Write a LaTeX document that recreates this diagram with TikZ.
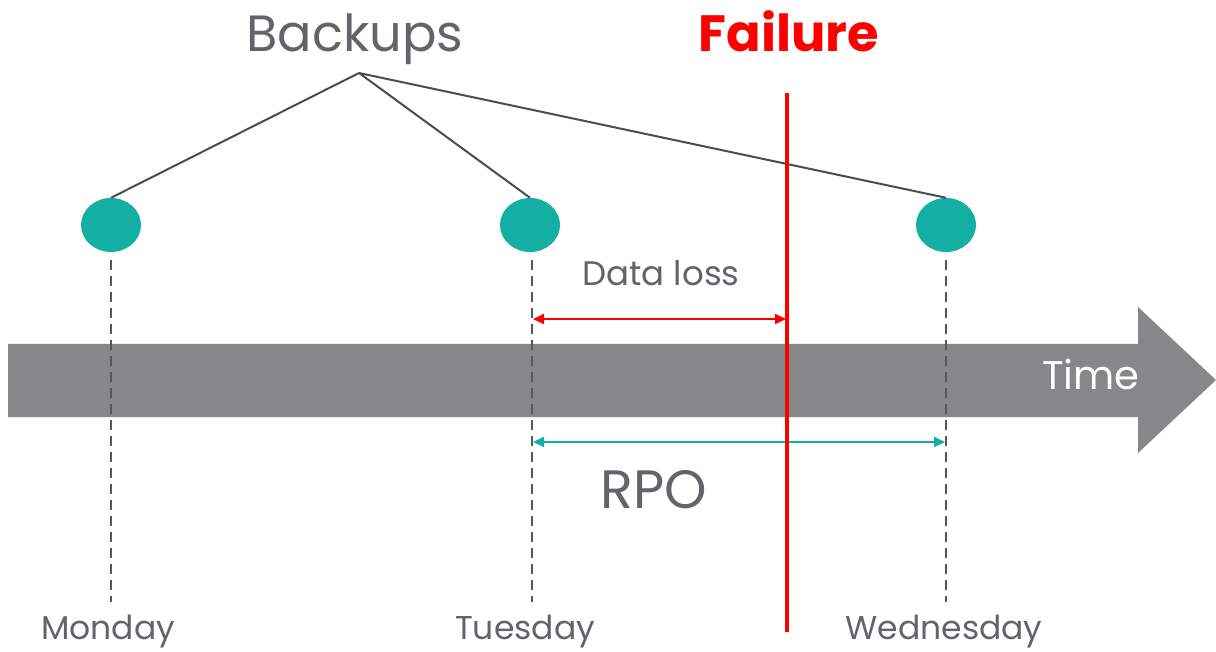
\documentclass[tikz,border=0pt]{standalone}
\usepackage{fontspec}
\setmainfont{Poppins}
\usetikzlibrary{arrows.meta,shapes.geometric}
\definecolor{bkteal}{HTML}{12AFA2}
\definecolor{bandgray}{HTML}{858789}
\definecolor{labelgray}{HTML}{62646A}
\definecolor{linkgray}{HTML}{4A4C50}
\definecolor{dashgray}{HTML}{55575B}
\definecolor{failred}{HTML}{FF0000}
\tikzset{
  backup/.style={ellipse, fill=bkteal, draw=none, minimum width=60pt, minimum height=54pt, inner sep=0pt},
  link/.style={linkgray, line width=2pt},
  guide/.style={dashgray, line width=2.6pt, dash pattern=on 10pt off 6pt},
  label/.style={labelgray, anchor=base, inner sep=0pt},
  span/.style={line width=2pt, {Triangle[length=11pt,width=10pt]}-{Triangle[length=11pt,width=10pt]}}
}
\begin{document}
\begin{tikzpicture}[x=1pt,y=-1pt]
\useasboundingbox (0,0) rectangle (1216,652);

% time band with arrow head
\fill[bandgray] (8,344) -- (1138,344) -- (1138,307) -- (1216,380) -- (1138,453) -- (1138,417) -- (8,417) -- cycle;
\node[anchor=base, white, inner sep=0pt, font=\fontsize{40}{44}\selectfont] (time) at (1091,389) {Time};

% backups
\node[backup] (mon) at (111,225) {};
\node[backup] (tue) at (530,225) {};
\node[backup] (wed) at (946,225) {};
\coordinate (apex) at (359,73);
\draw[link] (apex) -- (mon.north);
\draw[link] (apex) -- (tue.north);
\draw[link] (apex) -- (wed.north);
\node[label, font=\fontsize{51}{55}\selectfont] (backups) at (355,52) {Backups};

% dashed guides down to the day labels
\coordinate (monend) at (111,602);
\coordinate (tueend) at (532,602);
\coordinate (wedend) at (946,602);
\draw[guide] ([yshift=-8pt]mon.south) -- (monend);
\draw[guide] ([xshift=2pt,yshift=-8pt]tue.south) -- (tueend);
\draw[guide] ([yshift=-8pt]wed.south) -- (wedend);
\node[label, font=\fontsize{33}{36}\selectfont] (monday) at (108,639) {Monday};
\node[label, font=\fontsize{33}{36}\selectfont] (tuesday) at (525,639) {Tuesday};
\node[label, font=\fontsize{33}{36}\selectfont] (wednesday) at (944,639) {Wednesday};

% failure line
\coordinate (ftop) at (787,93);
\coordinate (fbot) at (787,632);
\node[anchor=base, failred, inner sep=0pt, font=\bfseries\fontsize{51}{55}\selectfont] (failure) at (789,52) {Failure};

% data loss span
\coordinate (dlA) at (533,319);
\coordinate (dlB) at (786,319);
\draw[span, failred] (dlA) -- (dlB);
\node[label, font=\fontsize{34}{37}\selectfont] (dataloss) at (661,286) {Data loss};

% RPO span
\coordinate (rpoA) at (533,442);
\coordinate (rpoB) at (945,442);
\draw[span, bkteal] (rpoA) -- (rpoB);
\node[label, font=\fontsize{54}{58}\selectfont] (rpo) at (654,508) {RPO};

\draw[failred, line width=4pt] (ftop) -- (fbot);
\end{tikzpicture}
\end{document}
